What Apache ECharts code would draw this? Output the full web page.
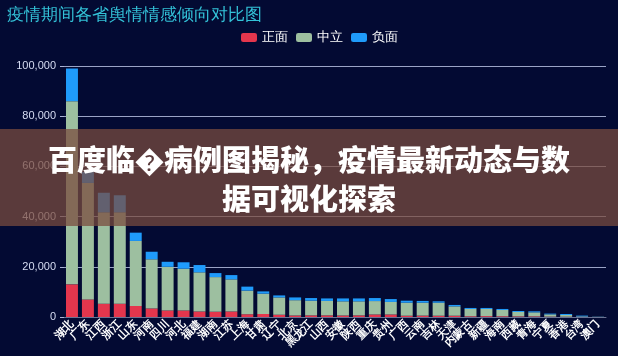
<!DOCTYPE html>
<html>
<head>
<meta charset="utf-8">
<script src="https://cdn.jsdelivr.net/npm/echarts@6/dist/echarts.min.js"></script>
<style>
  html, body { margin: 0; padding: 0; background: #030a33; }
  #chart { width: 618px; height: 356px; }
</style>
</head>
<body>
<div id="chart"></div>
<script>
// 省份
var provinces = ['湖北', '广东', '江西', '浙江', '山东', '河南', '四川', '河北', '福建', '湖南', '江苏', '上海',
  '甘肃', '辽宁', '北京', '黑龙江', '山西', '安徽', '陕西', '重庆', '贵州', '广西', '云南', '吉林',
  '天津', '内蒙古', '新疆', '海南', '西藏', '青海', '宁夏', '香港', '台湾', '澳门'];
// 正面
var positive = [13000, 7000, 5300, 5300, 4400, 3400, 2600, 2600, 2200, 2100, 2200, 1100,
  1200, 900, 600, 650, 650, 600, 650, 1000, 1000, 500, 550, 500,
  500, 300, 350, 300, 250, 250, 150, 100, 30, 10];
// 中立
var neutral = [73000, 46400, 36400, 36400, 25900, 19600, 17400, 16650, 15600, 13800, 12800, 9400,
  8100, 6900, 6100, 5850, 5750, 5650, 5600, 5350, 5000, 5200, 5150, 5200,
  3750, 2900, 2850, 2500, 1750, 1600, 900, 700, 220, 70];
// 负面
var negative = [13000, 4400, 7800, 6800, 3300, 3000, 2000, 2550, 2900, 1600, 1700, 1600,
  900, 800, 1100, 1050, 1000, 1150, 1150, 1200, 1150, 800, 700, 550,
  550, 400, 400, 400, 400, 400, 300, 400, 300, 50];

var bannerLines = ['百度临\uFFFD病例图揭秘，疫情最新动态与数', '据可视化探索'];

var chart = echarts.init(document.getElementById('chart'));

function fmt(v) {
  return String(v).replace(/\B(?=(\d{3})+(?!\d))/g, ',');
}

function bar(name, data, color) {
  return {
    name: name,
    type: 'bar',
    stack: 'total',
    barCategoryGap: '25%',
    itemStyle: { color: color },
    data: data
  };
}

function bannerText(text, y) {
  return {
    type: 'text',
    z: 101,
    x: 309,
    y: y,
    style: {
      text: text,
      fill: '#ffffff',
      font: '900 29px "Noto Sans CJK SC"',
      align: 'center',
      verticalAlign: 'middle',
      shadowColor: 'rgba(0,0,0,0.5)',
      shadowBlur: 3
    }
  };
}

var option = {
  backgroundColor: '#030a33',
  animation: false,
  title: {
    text: '疫情期间各省舆情情感倾向对比图',
    left: 2,
    top: 2,
    textStyle: { color: '#33c2d8', fontSize: 16.5, fontWeight: 'normal' }
  },
  legend: {
    data: ['正面', '中立', '负面'],
    left: 236,
    top: 26,
    itemWidth: 16,
    itemHeight: 9,
    itemGap: 8,
    icon: 'roundRect',
    textStyle: { color: '#ffffff', fontSize: 13 }
  },
  grid: { left: 64, right: 12, top: 66, bottom: 39 },
  xAxis: {
    type: 'category',
    data: provinces,
    axisLine: { lineStyle: { color: '#6b7394' } },
    axisTick: { show: false },
    axisLabel: { color: '#ffffff', fontSize: 11, fontWeight: 'bold', rotate: 45, interval: 0, margin: 5 }
  },
  yAxis: {
    type: 'value',
    min: 0,
    max: 100000,
    interval: 20000,
    axisLine: { show: false },
    axisTick: { show: true, length: 4, lineStyle: { color: '#aab3d6' } },
    axisLabel: { color: '#d6dcf2', fontSize: 11, margin: 8, formatter: fmt },
    splitLine: { lineStyle: { color: '#9aa3c6', width: 1 } }
  },
  series: [
    bar('正面', positive, '#e4364d'),
    bar('中立', neutral, '#9dbfa0'),
    bar('负面', negative, '#1f9bfb')
  ],
  graphic: [
    {
      type: 'rect',
      z: 100,
      shape: { x: 0, y: 129, width: 618, height: 97 },
      style: { fill: 'rgba(122,76,62,0.74)' }
    },
    bannerText(bannerLines[0], 160),
    bannerText(bannerLines[1], 199)
  ]
};

chart.setOption(option);
</script>
</body>
</html>
